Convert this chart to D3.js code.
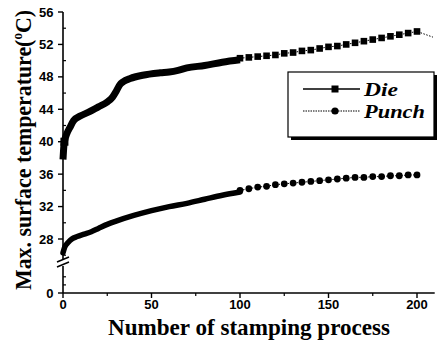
<!DOCTYPE html>
<html><head><meta charset="utf-8">
<script src="https://cdn.jsdelivr.net/npm/d3@7"></script>
<style>body{margin:0;background:#fff}</style>
</head><body>
<svg id="c" width="438" height="341"></svg>
<script>
// ---- data ----
const dieDenseX = [0, 0.5, 1, 2, 4, 6, 10, 15, 20, 25, 28, 30, 32, 34, 38, 45, 55, 60, 65, 70, 80, 90, 100];
const dieDenseY = [37.8, 39.5, 40.2, 40.9, 41.8, 42.6, 43.2, 43.7, 44.3, 44.9, 45.5, 46.2, 47.0, 47.4, 47.8, 48.2, 48.5, 48.6, 48.8, 49.1, 49.4, 49.8, 50.1];
const punchDenseX = [0, 1, 3, 5, 8, 12, 16, 20, 25, 30, 40, 50, 60, 70, 80, 90, 100];
const punchDenseY = [26.3, 27.0, 27.6, 28.0, 28.3, 28.6, 28.9, 29.3, 29.8, 30.2, 30.9, 31.5, 32.0, 32.4, 32.9, 33.4, 33.8];
const markX = [100, 105, 110, 115, 120, 125, 130, 135, 140, 145, 150, 155, 160, 165, 170, 175, 180, 185, 190, 195, 200];
const dieMarkY = [50.3, 50.4, 50.5, 50.6, 50.7, 50.9, 51.0, 51.2, 51.3, 51.5, 51.7, 51.8, 52.0, 52.2, 52.4, 52.6, 52.8, 53.0, 53.2, 53.4, 53.6];
const punchMarkY = [34.0, 34.2, 34.4, 34.5, 34.7, 34.8, 34.9, 35.0, 35.1, 35.2, 35.3, 35.4, 35.5, 35.6, 35.6, 35.7, 35.7, 35.8, 35.8, 35.9, 35.9];
const dieTailX = [200, 209];
const dieTailY = [53.6, 52.9];
const xTicks = [0, 50, 100, 150, 200];
const xMinor = [25, 75, 125, 175];
const yTicksUpper = [28, 32, 36, 40, 44, 48, 52, 56];
const yMinorUpper = [26, 30, 34, 38, 42, 46, 50, 54];
const yTicksLower = [0];
const yMinorLower = [1, 2];
const seriesNames = ["Die", "Punch"];

// ---- scales ----
const svg = d3.select("#c");
const x = d3.scaleLinear().domain([0, 200]).range([63, 417]);
const yUp = d3.scaleLinear().domain([28, 56]).range([239, 12]);
const yLow = d3.scaleLinear().domain([0, 4]).range([293, 260.6]);
const y = v => v >= 20 ? yUp(v) : yLow(v);

const axisCol = "#000";
const fontSans = "Liberation Sans, Arial, sans-serif";
const fontSerif = "Liberation Serif, Times New Roman, serif";

// ---- axes ----
const g = svg.append("g");
g.append("line").attr("x1", 63).attr("x2", 63).attr("y1", y(56)).attr("y2", y(0))
  .attr("stroke", axisCol).attr("stroke-width", 1.6);
g.append("line").attr("x1", x(0)).attr("x2", x(210)).attr("y1", y(0)).attr("y2", y(0))
  .attr("stroke", axisCol).attr("stroke-width", 1.6);

const yMaj = yTicksUpper.map(v => ({v, p: yUp(v)})).concat(yTicksLower.map(v => ({v, p: yLow(v)})));
g.selectAll(".ymaj").data(yMaj).enter().append("line")
  .attr("x1", 58).attr("x2", 63).attr("y1", d => d.p).attr("y2", d => d.p)
  .attr("stroke", axisCol).attr("stroke-width", 1.4);
g.selectAll(".ylab").data(yMaj).enter().append("text")
  .attr("x", 53.5).attr("y", d => d.p + 4.6).attr("text-anchor", "end")
  .attr("font-family", fontSans).attr("font-weight", "bold").attr("font-size", 13)
  .text(d => d.v);
const yMin = yMinorUpper.map(v => yUp(v)).concat(yMinorLower.map(v => yLow(v)));
g.selectAll(".ymin").data(yMin).enter().append("line")
  .attr("x1", 63).attr("x2", 66).attr("y1", d => d).attr("y2", d => d)
  .attr("stroke", axisCol).attr("stroke-width", 1.2);

// break mark
const by = 263;
g.append("rect").attr("x", 58).attr("y", by - 4).attr("width", 10).attr("height", 7).attr("fill", "#fff");
g.append("line").attr("x1", 57).attr("y1", by - 1).attr("x2", 69).attr("y2", by - 6).attr("stroke", "#000").attr("stroke-width", 1.5);
g.append("line").attr("x1", 57).attr("y1", by + 4).attr("x2", 69).attr("y2", by - 1).attr("stroke", "#000").attr("stroke-width", 1.5);

// x ticks
g.selectAll(".xmaj").data(xTicks).enter().append("line")
  .attr("x1", d => x(d)).attr("x2", d => x(d)).attr("y1", y(0)).attr("y2", y(0) + 5)
  .attr("stroke", axisCol).attr("stroke-width", 1.4);
g.selectAll(".xmin").data(xMinor).enter().append("line")
  .attr("x1", d => x(d)).attr("x2", d => x(d)).attr("y1", y(0)).attr("y2", y(0) + 3)
  .attr("stroke", axisCol).attr("stroke-width", 1.2);
g.selectAll(".xlab").data(xTicks).enter().append("text")
  .attr("x", d => x(d)).attr("y", 309).attr("text-anchor", "middle")
  .attr("font-family", fontSans).attr("font-weight", "bold").attr("font-size", 13)
  .text(d => d);

// axis titles
svg.append("text").attr("x", 249).attr("y", 335).attr("text-anchor", "middle")
  .attr("font-family", fontSerif).attr("font-weight", "bold").attr("font-size", 23.5)
  .attr("textLength", 282).attr("lengthAdjust", "spacingAndGlyphs")
  .text("Number of stamping process");
const yt = svg.append("text").attr("transform", "translate(31,150) rotate(-90)")
  .attr("text-anchor", "middle")
  .attr("font-family", fontSerif).attr("font-weight", "bold").attr("font-size", 23.5)
  .attr("textLength", 280).attr("lengthAdjust", "spacingAndGlyphs");
yt.append("tspan").text("Max. surface temperature(");
yt.append("tspan").attr("font-size", 14).attr("dy", -9).text("o");
yt.append("tspan").attr("dy", 9).text("C)");

// ---- series ----
const line = d3.line().x(d => x(d[0])).y(d => y(d[1]));
const dieDense = dieDenseX.map((v, i) => [v, dieDenseY[i]]);
const punchDense = punchDenseX.map((v, i) => [v, punchDenseY[i]]);
const dieMarks = markX.map((v, i) => [v, dieMarkY[i]]);
const punchMarks = markX.map((v, i) => [v, punchMarkY[i]]);
const dieTail = dieTailX.map((v, i) => [v, dieTailY[i]]);

svg.append("path").datum(dieMarks.concat(dieTail.slice(1))).attr("d", line.curve(d3.curveLinear))
  .attr("fill", "none").attr("stroke", "#000").attr("stroke-width", 1).attr("stroke-dasharray", "1.5,1.5");
svg.append("path").datum(punchMarks).attr("d", line)
  .attr("fill", "none").attr("stroke", "#000").attr("stroke-width", 1).attr("stroke-dasharray", "1.5,1.5");
line.curve(d3.curveMonotoneX);

svg.append("path").datum(dieDense).attr("d", line)
  .attr("fill", "none").attr("stroke", "#000").attr("stroke-width", 7).attr("stroke-linejoin", "round");
svg.append("path").datum(punchDense).attr("d", line)
  .attr("fill", "none").attr("stroke", "#000").attr("stroke-width", 5.5).attr("stroke-linejoin", "round").attr("stroke-linecap", "round");
svg.append("rect").attr("x", x(0.8) - 4).attr("y", y(40) - 4).attr("width", 8).attr("height", 8).attr("fill", "#000");

svg.selectAll(".dsq").data(dieMarks).enter().append("rect")
  .attr("x", d => x(d[0]) - 3.3).attr("y", d => y(d[1]) - 3.3).attr("width", 6.6).attr("height", 6.6).attr("fill", "#000");
svg.selectAll(".pci").data(punchMarks).enter().append("circle")
  .attr("cx", d => x(d[0])).attr("cy", d => y(d[1])).attr("r", 3.4).attr("fill", "#000");

// ---- legend ----
const lg = svg.append("g");
lg.append("rect").attr("x", 291).attr("y", 75).attr("width", 146).attr("height", 65).attr("fill", "#000");
lg.append("rect").attr("x", 288).attr("y", 72).attr("width", 146).attr("height", 65)
  .attr("fill", "#fff").attr("stroke", "#000").attr("stroke-width", 1.2);
const legY = [89, 111];
const legLen = [34, 61];
lg.append("line").attr("x1", 303).attr("x2", 360).attr("y1", legY[0]).attr("y2", legY[0]).attr("stroke", "#000").attr("stroke-width", 1.3);
lg.append("rect").attr("x", 331.5).attr("y", legY[0] - 3.5).attr("width", 7).attr("height", 7).attr("fill", "#000");
lg.append("line").attr("x1", 303).attr("x2", 360).attr("y1", legY[1]).attr("y2", legY[1]).attr("stroke", "#000").attr("stroke-width", 1).attr("stroke-dasharray", "1.5,1");
lg.append("circle").attr("cx", 335).attr("cy", legY[1]).attr("r", 3.6).attr("fill", "#000");
lg.selectAll(".lt").data(seriesNames).enter().append("text")
  .attr("x", 364).attr("y", (d, i) => legY[i] + 7)
  .attr("font-family", fontSerif).attr("font-weight", "bold").attr("font-style", "italic").attr("font-size", 19)
  .attr("textLength", (d, i) => legLen[i]).attr("lengthAdjust", "spacingAndGlyphs")
  .text(d => d);
</script>
</body></html>
